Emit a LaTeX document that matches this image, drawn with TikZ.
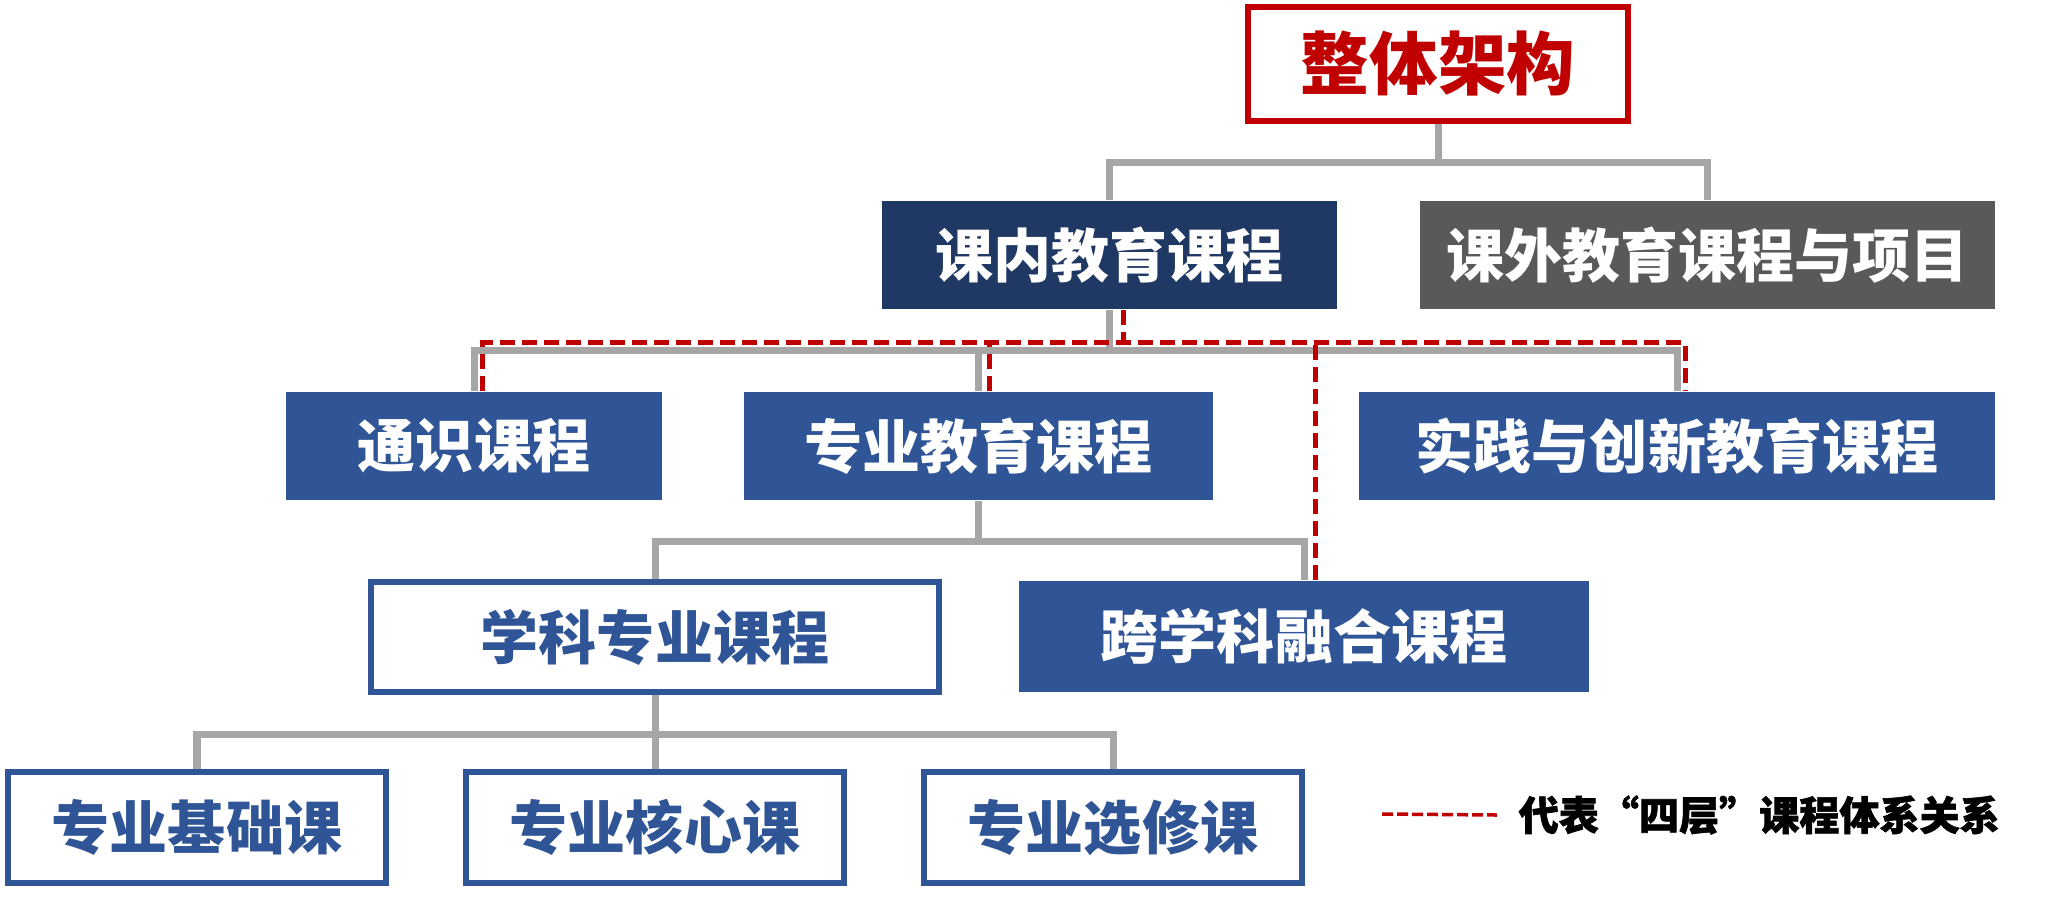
\documentclass[tikz,border=0pt]{standalone}
\usepackage{fontspec}
\newfontfamily\cjk{Noto Sans CJK SC}
\newfontfamily\cjkheavy{Noto Sans CJK SC}[BoldFeatures={FakeBold=1.5}]
\definecolor{navyc}{HTML}{203864}
\definecolor{bluec}{HTML}{2F5597}
\definecolor{grayc}{HTML}{595959}
\definecolor{redc}{HTML}{C00000}
\definecolor{linkc}{HTML}{A6A6A6}
\begin{document}
\begin{tikzpicture}[x=0.01cm, y=-0.01cm,
    box/.style={inner sep=0pt, font=\cjk\bfseries\fontsize{16.5}{18}\selectfont},
    fillbox/.style={box, text=white, minimum height=1.08cm},
    framebox/.style={box, draw=bluec, line width=0.055cm, fill=white, text=bluec},
    link/.style={linkc, line width=0.07cm},
    tier/.style={redc, line width=0.05cm, dash pattern=on 0.15cm off 0.07cm}]
    \useasboundingbox (0,0) rectangle (2048,905);
    % levels
    \node[box, draw=redc, line width=0.06cm, text=redc, minimum width=3.80cm, minimum height=1.14cm,
        font=\cjk\bfseries\fontsize{19.5}{21}\selectfont] (top) at (1438,64) {整体架构};
    \node[fillbox, fill=navyc, minimum width=4.55cm] (inner) at (1109.5,255) {课内教育课程};
    \node[fillbox, fill=grayc, minimum width=5.75cm] (outer) at (1707.5,255) {课外教育课程与项目};
    \node[fillbox, fill=bluec, minimum width=3.76cm] (general) at (474,446) {通识课程};
    \node[fillbox, fill=bluec, minimum width=4.69cm] (major) at (978.5,446) {专业教育课程};
    \node[fillbox, fill=bluec, minimum width=6.36cm] (practice) at (1677,446) {实践与创新教育课程};
    \node[framebox, minimum width=5.68cm, minimum height=1.10cm] (discipline) at (655,637) {学科专业课程};
    \node[fillbox, fill=bluec, minimum width=5.70cm, minimum height=1.11cm] (cross) at (1304,636.5) {跨学科融合课程};
    \foreach \n/\x/\t in {basic/197/专业基础课, core/655/专业核心课, elective/1113/专业选修课}
        \node[framebox, minimum width=3.78cm, minimum height=1.11cm] (\n) at (\x,827.5) {\t};
    % tree
    \draw[link] (top.south) -- ++(0,38) coordinate (h1);
    \draw[link] (inner.north) |- (h1) -| (outer.north);
    \draw[link] (inner.south) -- ++(0,41) coordinate (h2);
    \draw[link] (general.north) |- (h2) -| (practice.north);
    \draw[link] (major.north) -- (major.north |- h2);
    \draw[link] (major.south) -- ++(0,41) coordinate (h3);
    \draw[link] (discipline.north) |- (h3) -| (cross.north);
    \draw[link] (discipline.south) -- ++(0,40) coordinate (h4);
    \draw[link] (basic.north) |- (h4) -| (elective.north);
    \draw[link] (core.north) -- (core.north |- h4);
    % four tiers
    \path ([xshift=0.135cm]inner.south) ++(0,33) coordinate (rt);
    \draw[tier] ([xshift=0.135cm]inner.south) -- (rt);
    \draw[tier] ([xshift=0.08cm]general.north) |- (rt) -| ([xshift=0.08cm]practice.north);
    \draw[tier] ([xshift=0.105cm]major.north) -- ([xshift=0.105cm]major.north |- rt);
    \draw[tier] ([xshift=0.11cm]cross.north) -- ([xshift=0.11cm]cross.north |- rt);
    % key
    \node[box, font=\cjkheavy\bfseries\fontsize{11.4}{13}\selectfont, anchor=west] (key) at (1518,815) {代表“四层”课程体系关系};
    \coordinate (keyend) at (1382,814);
    \draw[tier, line width=0.035cm, dash pattern=on 0.11cm off 0.04cm] (keyend) -- ([xshift=-0.21cm]key.west);
\end{tikzpicture}
\end{document}
